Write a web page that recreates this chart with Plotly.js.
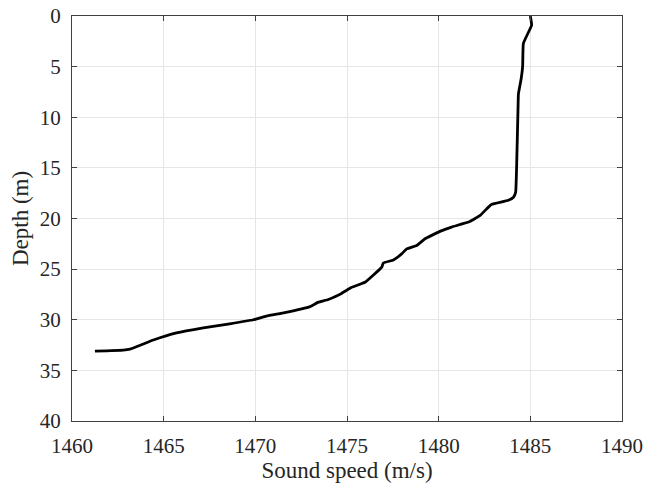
<!DOCTYPE html>
<html>
<head>
<meta charset="utf-8">
<script src="https://cdn.plot.ly/plotly-3.0.1.min.js"></script>
<style>
html,body{margin:0;padding:0;background:#fff;}
#chart{width:646px;height:490px;}
#chart svg text{font-family:"Liberation Serif","DejaVu Serif",serif !important;}
</style>
</head>
<body>
<div id="chart"></div>
<script>
const depth = [0, 0.9, 2.7, 5.0, 6.2, 7.7, 9.0, 14.3, 17.4, 17.9, 18.2, 18.6, 18.9, 19.7, 20.3, 20.85, 21.25, 22.0, 22.66, 23.0, 23.5, 24.1, 24.4, 24.8, 26.3, 26.8, 27.4, 28.0, 28.26, 28.7, 29.3, 29.64, 30.0, 30.4, 30.8, 31.3, 32.0, 32.9, 33.0, 33.1];
const soundSpeed = [1485.0, 1485.07, 1484.62, 1484.58, 1484.5, 1484.35, 1484.33, 1484.26, 1484.2, 1484.08, 1483.8, 1482.9, 1482.7, 1482.26, 1481.7, 1480.7, 1480.1, 1479.26, 1478.8, 1478.26, 1477.98, 1477.53, 1476.98, 1476.9, 1475.98, 1475.26, 1474.7, 1473.98, 1473.44, 1472.98, 1471.6, 1470.6, 1469.9, 1468.6, 1467.16, 1465.7, 1464.44, 1463.16, 1462.8, 1461.25];
const xTicks = [1460, 1465, 1470, 1475, 1480, 1485, 1490];
const yTicks = [0, 5, 10, 15, 20, 25, 30, 35, 40];

const fam = 'Liberation Serif';
const font = {family: fam, size: 21, color: '#262626'};
const titleFont = {family: fam, size: 23, color: '#262626'};
const axisCommon = {
  showline: true, mirror: 'ticks', linecolor: '#404040', linewidth: 1,
  ticks: 'inside', ticklen: 5, tickcolor: '#404040', tickwidth: 1,
  showgrid: true, gridcolor: '#e6e6e6', gridwidth: 1, zeroline: false,
  tickfont: font
};
Plotly.newPlot('chart', [{
  x: soundSpeed, y: depth, type: 'scatter', mode: 'lines',
  line: {color: '#000000', width: 2.8, shape: 'spline', smoothing: 0.3}
}], {
  width: 646, height: 490,
  margin: {l: 72, r: 24, t: 16, b: 69},
  paper_bgcolor: '#ffffff', plot_bgcolor: '#ffffff',
  showlegend: false,
  font: font,
  xaxis: Object.assign({}, axisCommon, {
    range: [1460, 1490], tickvals: xTicks, ticktext: xTicks.map(String),
    ticklabelstandoff: 6,
    title: {text: 'Sound speed (m/s)', font: titleFont, standoff: 0}
  }),
  yaxis: Object.assign({}, axisCommon, {
    range: [40, 0], tickvals: yTicks, ticktext: yTicks.map(String),
    ticklabelstandoff: 6,
    title: {text: 'Depth (m)', font: titleFont, standoff: 4}
  })
}, {displayModeBar: false, staticPlot: true});
</script>
</body>
</html>
